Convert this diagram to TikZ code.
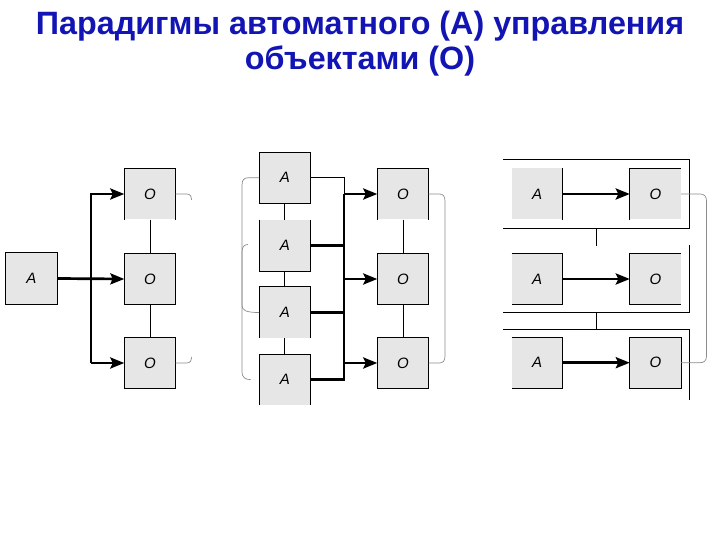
\documentclass[tikz,border=0pt]{standalone}
\usepackage{fontspec}
\setmainfont{Liberation Sans}
\usetikzlibrary{arrows.meta}
\definecolor{titleblue}{RGB}{18,20,180}
\definecolor{boxgray}{RGB}{230,230,230}
\begin{document}
\begin{tikzpicture}[x=1pt,y=-1pt,
  blk/.style={fill=boxgray,draw=none,minimum width=51pt,minimum height=51pt,inner sep=0pt,font=\fontsize{15}{15}\selectfont\itshape},
  edge/.style={line width=1pt,black},
  bus/.style={line width=2.7pt,black},
  arr/.style={-{Stealth[length=14pt,width=11pt,inset=2.5pt]}},
  curl/.style={draw=black!45,line width=0.7pt},
  ttl/.style={font=\fontsize{32.3}{32}\selectfont\bfseries,text=titleblue,anchor=base,inner sep=0pt}]
\useasboundingbox (0,0) rectangle (720,540);
% title
\node[ttl] (t1) at (360,35) {Парадигмы автоматного (А) управления};
\node[ttl] (t2) at (360,70) {объектами (О)};
% ---------- diagram 1
\node[blk] (pA) at (31.5,278.5) {A};
\node[blk] (pO1) at (150,194) {O};
\node[blk] (pO2) at (150,279) {O};
\node[blk] (pO3) at (150,363) {O};
\draw[edge] (pA.north west) rectangle (pA.south east);
\draw[edge] (pO1.south west) -- (pO1.north west) -- (pO1.north east) -- (pO1.south east);
\draw[edge] (pO2.north west) rectangle (pO2.south east);
\draw[edge] (pO3.north west) rectangle (pO3.south east);
\draw[edge] (pO1.south) -- (pO2.north);
\draw[edge] (pO2.south) -- (pO3.north);
\coordinate (p1t) at (91,194);
\coordinate (p1b) at (91,363);
\draw[bus,arr] (p1b) -- (p1t) -- (pO1.west);
\draw[bus,arr] (p1b) -- (pO3.west);
\draw[bus,arr] (pA.east) -- (pO2.west);
\draw[curl] (pO1.east) -- ++(11,0) .. controls +(4,0) and +(0,-3) .. ++(5,6);
\draw[curl] (pO3.east) -- ++(11,0) .. controls +(4,0) and +(0,3) .. ++(5,-6);
% ---------- diagram 2
\node[blk] (qA1) at (284.8,177.8) {A};
\node[blk] (qA2) at (284.8,245.3) {A};
\node[blk] (qA3) at (284.8,312.5) {A};
\node[blk] (qA4) at (284.8,379.7) {A};
\node[blk] (qO1) at (403,194) {O};
\node[blk] (qO2) at (403,279) {O};
\node[blk] (qO3) at (403,363) {O};
\draw[edge] (qA1.north west) rectangle (qA1.south east);
\draw[edge] (qA2.north west) -- (qA2.south west) -- (qA2.south east) -- (qA2.north east);
\draw[edge] (qA3.south west) -- (qA3.north west) -- (qA3.north east) -- (qA3.south east);
\draw[edge] (qA4.south west) -- (qA4.north west) -- (qA4.north east) -- (qA4.south east);
\draw[edge] (qO1.south west) -- (qO1.north west) -- (qO1.north east) -- (qO1.south east);
\draw[edge] (qO2.north west) rectangle (qO2.south east);
\draw[edge] (qO3.north west) rectangle (qO3.south east);
\draw[edge] (qA1.south) -- (qA2.north);
\draw[edge] (qA2.south) -- (qA3.north);
\draw[edge] (qA3.south) -- (qA4.north);
\draw[edge] (qO1.south) -- (qO2.north);
\draw[edge] (qO2.south) -- (qO3.north);
\coordinate (qb0) at (344,177.8);
\coordinate (qb1) at (344,194);
\coordinate (qb4) at (344,379.7);
\draw[edge] (qA1.east) -- (qb0) -- (qb1);
\draw[bus] (qA4.east) -- (qb4) -- (qb1);
\draw[bus] (qA2.east) -- (qA2.east -| qb1);
\draw[bus] (qA3.east) -- (qA3.east -| qb1);
\draw[bus,arr] (qb1) -- (qO1.west);
\draw[bus,arr] (qb1 |- qO2.west) -- (qO2.west);
\draw[bus,arr] (qb1 |- qO3.west) -- (qO3.west);
\coordinate (qc1) at (248,244.5);
\coordinate (qc2) at (251,379.7);
\draw[curl] (qA1.west) -- (248,177.8) .. controls (244,177.8) and (242,180) .. (242,185) -- (242,372) .. controls (242,377) and (245,379.7) .. (qc2);
\draw[curl] (qc1) .. controls (244,244.5) and (242,247) .. (242,252) -- (242,305) .. controls (242,310) and (245,312.5) .. (qA3.west);
\draw[curl] (qO1.east) -- (439,194) .. controls (443,194) and (445,196) .. (445,201) -- (445,356) .. controls (445,361) and (443,363) .. (439,363) -- (qO3.east);
% ---------- diagram 3
\draw[edge] (503,160) -- (689.3,160) -- (689.3,228.3) -- (503,228.3);
\draw[edge] (689.3,245) -- (689.3,312) -- (503,312);
\draw[edge] (503,329) -- (689.3,329) -- (689.3,400);
\node[blk] (rA1) at (537.2,194) {A};
\node[blk] (rA2) at (537.2,279) {A};
\node[blk] (rA3) at (537.2,362.7) {A};
\node[blk] (rO1) at (655.5,194) {O};
\node[blk] (rO2) at (655.5,279) {O};
\node[blk] (rO3) at (655.5,362.7) {O};
\draw[edge] (rA1.north east) -- (rA1.south east);
\draw[edge] (rA2.north west) -- (rA2.north east) -- (rA2.south east) -- (rA2.south west);
\draw[edge] (rA3.north west) -- (rA3.north east) -- (rA3.south east) -- (rA3.south west);
\draw[edge] (rO1.south west) -- (rO1.north west) -- (rO1.north east);
\draw[edge] (rO2.north east) -- (rO2.north west) -- (rO2.south west) -- (rO2.south east);
\draw[edge] (rO3.north west) rectangle (rO3.south east);
\draw[bus,arr] (rA1.east) -- (rO1.west);
\draw[bus,arr] (rA2.east) -- (rO2.west);
\draw[bus,arr] (rA3.east) -- (rO3.west);
\coordinate (rv1) at (596,228.3);
\coordinate (rv2) at (596,246);
\coordinate (rv3) at (596,312);
\coordinate (rv4) at (596,329);
\draw[edge] (rv1) -- (rv2);
\draw[edge] (rv3) -- (rv4);
\draw[curl] (rO1.east) -- (700,194) .. controls (704,194) and (706.5,196) .. (706.5,201) -- (706.5,356) .. controls (706.5,360.7) and (704,362.7) .. (700,362.7) -- (rO3.east);
\end{tikzpicture}
\end{document}
